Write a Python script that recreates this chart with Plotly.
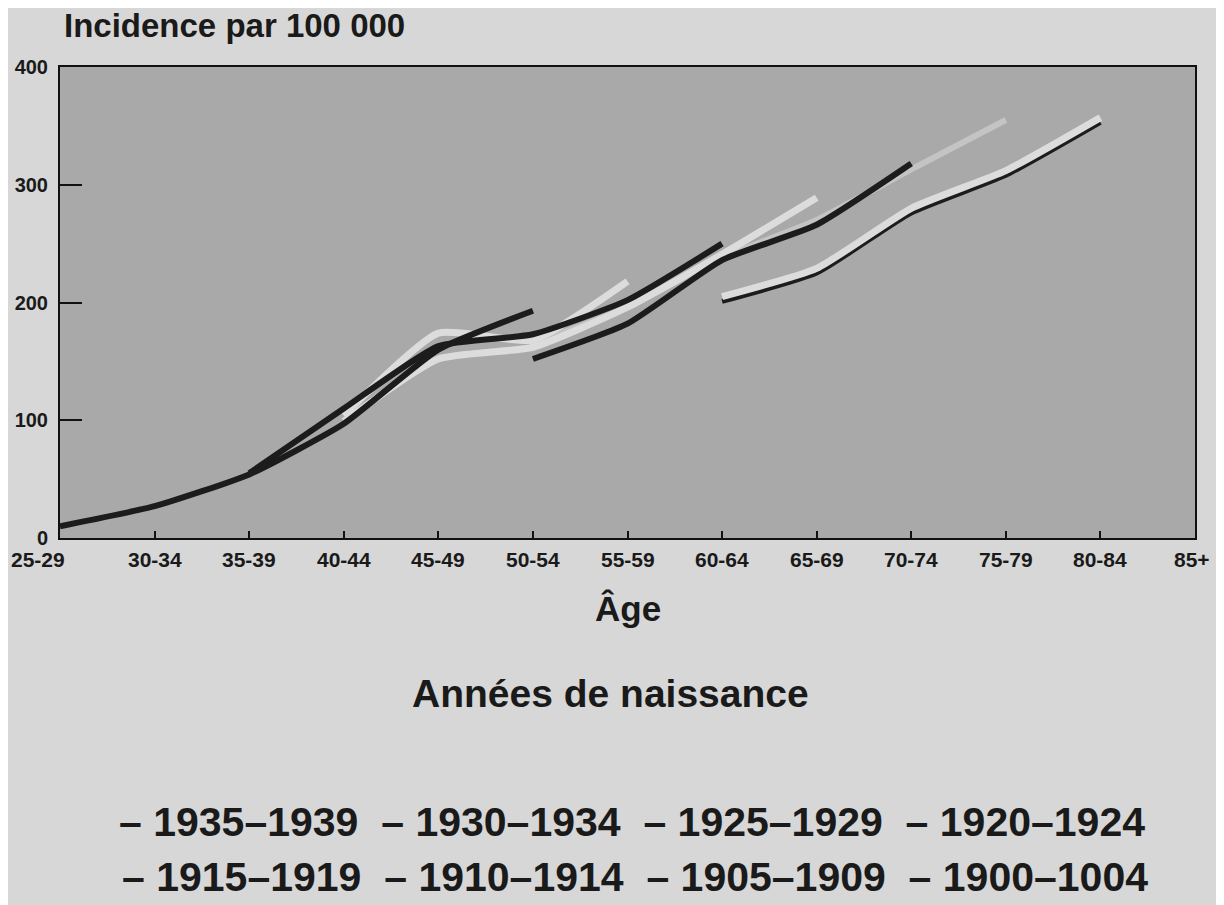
import plotly.graph_objects as go

ages = ["25-29", "30-34", "35-39", "40-44", "45-49", "50-54", "55-59",
        "60-64", "65-69", "70-74", "75-79", "80-84", "85+"]
y_ticks = [0, 100, 200, 300, 400]

# cohort values (incidence per 100 000), with index of first age group
c1935_start, c1935 = 0, [10, 27, 54, 97, 160, 193]
c1930_start, c1930 = 3, [104, 174, 168, 218]
c1925_start, c1925 = 2, [55, 110, 163, 173, 202, 250]
c1920_start, c1920 = 3, [99, 152, 162, 196, 241, 289]
c1915_start, c1915 = 5, [152, 182, 236, 266, 318]
c1910_start, c1910 = 5, [165, 196, 238, 270, 313, 355]
c1905_start, c1905 = 7, [201, 225, 276, 308, 353]
c1900_start, c1900 = 7, [205, 229, 280, 312, 357]

legend_row1 = ["1935–1939", "1930–1934", "1925–1929", "1920–1924"]
legend_row2 = ["1915–1919", "1910–1914", "1905–1909", "1900–1004"]

BLACK = "#1c1c1c"
LIGHT = "#dcdcdc"
FAINT = "#c4c4c4"

series = [
    ("1910–1914", c1910_start, c1910, FAINT, 6),
    ("1905–1909", c1905_start, c1905, BLACK, 5),
    ("1900–1904", c1900_start, c1900, LIGHT, 7),
    ("1920–1924", c1920_start, c1920, LIGHT, 7),
    ("1930–1934", c1930_start, c1930, LIGHT, 7),
    ("1915–1919", c1915_start, c1915, BLACK, 6),
    ("1925–1929", c1925_start, c1925, BLACK, 6),
    ("1935–1939", c1935_start, c1935, BLACK, 6),
]

fig = go.Figure()
for name, start, vals, col, w in series:
    fig.add_trace(go.Scatter(
        x=list(range(start, start + len(vals))), y=vals, mode="lines",
        name=name, line=dict(color=col, width=w, shape="spline", smoothing=0.5),
        showlegend=False, hoverinfo="skip"))

FONT = "Liberation Sans"
OFF = 8  # page body margin
W, H = 1224, 905
L, R, T, B = 60 - OFF, W - 1195 + OFF, 67 - OFF, H - 538 + OFF
PW, PH = W - L - R, H - T - B

fig.update_layout(
    width=W, height=H,
    margin=dict(l=L, r=R, t=T, b=B, autoexpand=False),
    paper_bgcolor="#d7d7d7",
    plot_bgcolor="#a9a9a9",
    font=dict(family=FONT, color="#1a1a1a"),
    showlegend=False,
)
fig.update_xaxes(
    range=[0, 12], tickvals=list(range(len(ages))), ticktext=ages,
    showticklabels=False, ticks="inside", ticklen=7, tickwidth=2, tickcolor="#111",
    showline=True, linecolor="#111", linewidth=2, mirror=True, showgrid=False,
    zeroline=False, automargin=False,
)
fig.update_yaxes(
    range=[0, 400], tickvals=y_ticks, ticktext=[str(v) for v in y_ticks],
    ticks="inside", ticklen=22, tickwidth=2, tickcolor="#111",
    ticklabelstandoff=6,
    tickfont=dict(family=FONT, size=20, color="#1a1a1a", weight="bold"),
    showline=True, linecolor="#111", linewidth=2, mirror=True, showgrid=False,
    zeroline=False, automargin=False,
)


def px2paper(px, py):
    return (px - OFF - L) / PW, ((H - (py - OFF)) - B) / PH


ann = []
for i, lab in enumerate(ages):
    if i == 0:
        ann.append(dict(x=px2paper(9, 0)[0], y=0, xref="paper", yref="paper", text=lab,
                        showarrow=False, xanchor="left", yanchor="top", yshift=-8,
                        font=dict(family=FONT, size=21, color="#1a1a1a", weight="bold")))
    else:
        xpos = i if i < len(ages) - 1 else 11.97
        ann.append(dict(x=xpos, y=0, xref="x", yref="paper", text=lab, showarrow=False,
                        yanchor="top", yshift=-8,
                        font=dict(family=FONT, size=21, color="#1a1a1a", weight="bold")))

texts = [
    ("Incidence par 100 000", 62, 25, "left", 33),
    ("Âge", 628, 608, "center", 35),
    ("Années de naissance", 610, 693, "center", 39),
    ("  ".join("– " + s for s in legend_row1), 632, 822, "center", 41),
    ("  ".join("– " + s for s in legend_row2), 635, 877, "center", 41),
]
for txt, px, py, xa, sz in texts:
    xp, yp = px2paper(px, py)
    ann.append(dict(x=xp, y=yp, xref="paper", yref="paper", text=txt, showarrow=False,
                    xanchor=xa, yanchor="middle",
                    font=dict(family=FONT, size=sz, color="#1a1a1a", weight="bold")))

fig.update_layout(annotations=ann)
fig.write_html("out.html")
